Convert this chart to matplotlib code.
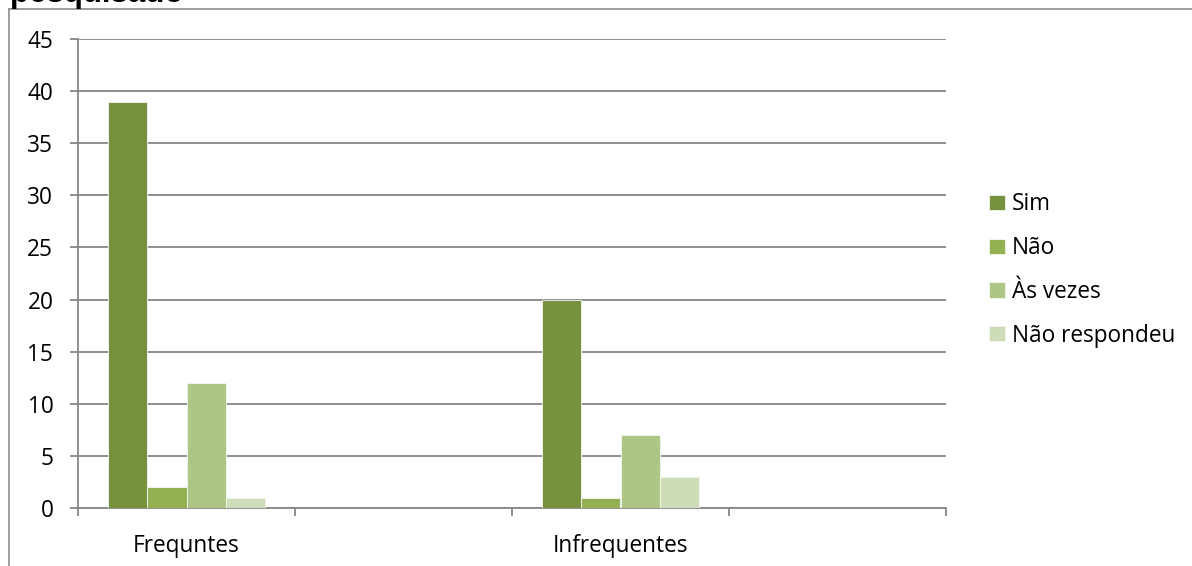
import matplotlib.pyplot as plt
import numpy as np

# Data (two empty slots sit between the groups)
categories = ["Frequntes", "", "Infrequentes", ""]
series = ["Sim", "Não", "Às vezes", "Não respondeu"]
sim = [39, np.nan, 20, np.nan]
nao = [2, np.nan, 1, np.nan]
as_vezes = [12, np.nan, 7, np.nan]
nao_resp = [1, np.nan, 3, np.nan]
yticks = [0, 5, 10, 15, 20, 25, 30, 35, 40, 45]

COLORS = ["#77923D", "#93B053", "#ADC585", "#CEDCB8"]
GRID = "#878787"
FS = 16.3

plt.rcParams["font.family"] = ["Open Sans", "DejaVu Sans"]

fig = plt.figure(figsize=(11.92, 5.66), dpi=100)
ax = fig.add_axes([78 / 1192, 1 - 508 / 566, (946 - 78) / 1192, (508 - 39) / 566])

x = np.arange(len(categories))
w = 0.18
for i, (vals, name) in enumerate(zip([sim, nao, as_vezes, nao_resp], series)):
    ax.bar(x + (i - 1.5) * w, vals, w, color=COLORS[i], label=name,
           edgecolor="#F4F8EE", linewidth=0.6, zorder=3)

ax.set_xlim(-0.5, len(categories) - 0.5)
ax.set_ylim(0, 45)
ax.set_yticks(yticks)
ax.yaxis.grid(True, color=GRID, lw=1.3)
ax.set_axisbelow(True)
ax.tick_params(axis="y", length=5.8, width=1.3, color=GRID, pad=12, labelsize=FS)

# category boundaries carry the tick marks, centres carry the labels
ax.set_xticks(np.arange(len(categories) + 1) - 0.5)
ax.set_xticklabels([])
ax.set_xticks(x, categories, minor=True)
ax.tick_params(axis="x", which="major", length=6, width=1.3, color=GRID)
ax.tick_params(axis="x", which="minor", length=0, pad=19, labelsize=FS)

for s in ["top", "right"]:
    ax.spines[s].set_visible(False)
for s in ["left", "bottom"]:
    ax.spines[s].set_color(GRID)
    ax.spines[s].set_linewidth(1.3)

fig.legend(loc="center left", bbox_to_anchor=(989 / 1192, 1 - 270 / 566),
           frameon=False, fontsize=FS, handlelength=0.7, handleheight=0.66,
           handletextpad=0.3, labelspacing=0.87, borderaxespad=0, borderpad=0)

# outer chart frame (only top/left edges are inside the crop)
frame_c = "#8C8C8C"
fig.add_artist(plt.Line2D([9 / 1192, 1], [1 - 9 / 566] * 2, color=frame_c, lw=1.2,
                          transform=fig.transFigure))
fig.add_artist(plt.Line2D([9 / 1192] * 2, [0, 1 - 9 / 566], color=frame_c, lw=1.2,
                          transform=fig.transFigure))

# title cut off by the crop
fig.text(10 / 1192, 1 - 2 / 566, "pesquisado", fontsize=22.5, fontweight="bold",
         family=["Liberation Sans", "DejaVu Sans"], va="baseline", ha="left")

fig.savefig("out.png", dpi=100)
